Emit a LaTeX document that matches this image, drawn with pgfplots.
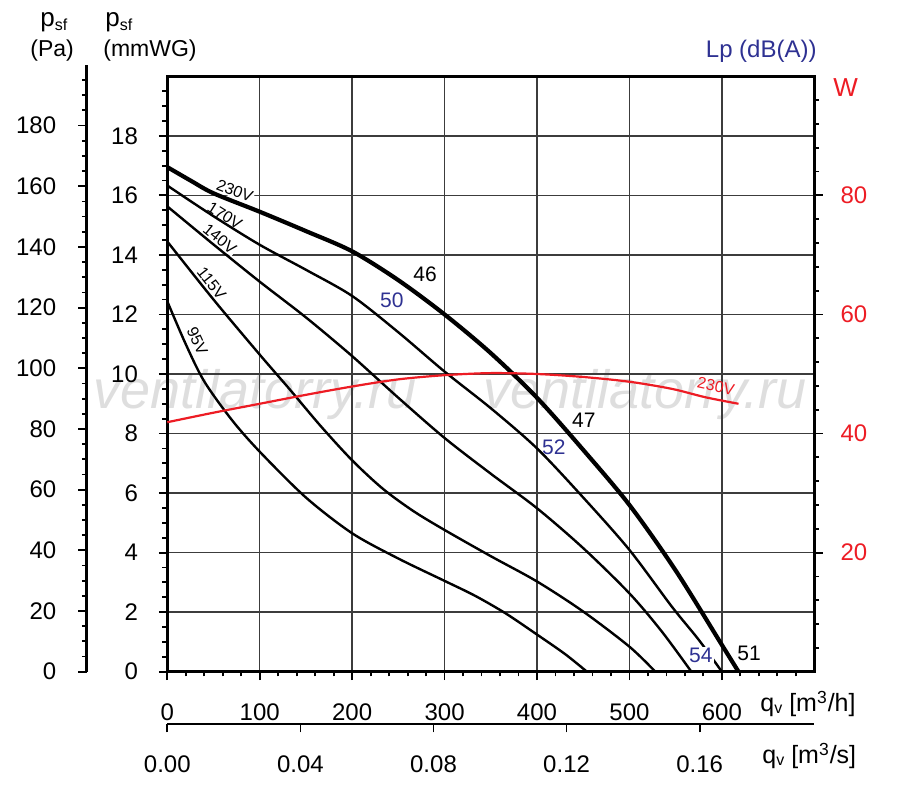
\documentclass[border=0pt]{standalone}
\usepackage{fontspec}
\setmainfont{Liberation Sans}
\usepackage{pgfplots}
\pgfplotsset{compat=1.18}
\definecolor{chred}{RGB}{237,28,36}
\definecolor{chblue}{RGB}{46,49,146}
\definecolor{gridc}{RGB}{60,60,60}
\newcommand{\fs}[1]{\fontsize{#1}{#1}\selectfont}
\begin{document}
\begin{tikzpicture}[font=\fs{12}]
\useasboundingbox (-83.65pt,-57.15pt) rectangle (366.35pt,335.85pt);
\pgfplotsset{
  every axis/.append style={
    scale only axis,
    /pgf/number format/assume math mode=true,
    tick label style={font=\fs{12}, inner sep=0pt},
    tick align=outside,
    tick style={black, line width=0.9pt},
    major tick length=4.2pt,
    minor tick length=2.4pt,
  },
}
% watermark
\node[font=\fs{27}\itshape, text=black!13] at (43.85pt,138.35pt) {ventilatorry.ru};
\node[font=\fs{27}\itshape, text=black!13] at (238.85pt,138.35pt) {ventilatorry.ru};

% Pa axis
\begin{axis}[
  at={(-40.3pt,0pt)}, anchor=south west,
  width=10pt, height=303.4pt,
  xmin=0, xmax=1, ymin=0, ymax=200,
  axis x line=none, axis y line*=left,
  axis line style={line width=1.2pt},
  ytick={0,20,...,180}, minor ytick={5,10,...,195},
  yticklabel shift=10.85pt,
]
\end{axis}

% m3/s axis
\begin{axis}[
  at={(0pt,-26.15pt)}, anchor=south west,
  width=323.5pt, height=10pt,
  xmin=0, xmax=0.194444, ymin=0, ymax=1,
  axis y line=none, axis x line*=bottom,
  axis line style={line width=1.1pt},
  xtick={0,0.04,0.08,0.12,0.16}, scaled x ticks=false,
  xticklabel style={/pgf/number format/fixed, /pgf/number format/fixed zerofill, /pgf/number format/precision=2},
  xticklabel shift=11.35pt,
]
\end{axis}

% main axis (mmWG)
\begin{axis}[
  at={(0pt,0pt)}, anchor=south west,
  width=323.5pt, height=297.7pt,
  xmin=0, xmax=700, ymin=0, ymax=20,
  tick pos=left,
  xtick={0,100,...,600}, minor xtick={20,40,...,680},
  ytick={0,2,...,18}, minor ytick={0.5,1,...,19.5},
  grid=major, major grid style={gridc, line width=0.7pt},
  axis line style={line width=1.3pt},
  xticklabel shift=11.6pt, yticklabel shift=10.3pt,
  clip=false,
]
% curve labels
\node[font=\fs{8}, rotate=-21, fill=white, inner sep=0.6pt] at (axis cs:73,16.15) {230V};
\node[font=\fs{8}, rotate=-32, fill=white, inner sep=0.6pt] at (axis cs:62.2,15.32) {170V};
\node[font=\fs{8}, rotate=-39, fill=white, inner sep=0.6pt] at (axis cs:56.9,14.54) {140V};
\node[font=\fs{8}, rotate=-52, fill=white, inner sep=0.6pt] at (axis cs:47.9,13.05) {115V};
\node[font=\fs{8}, rotate=-65, fill=white, inner sep=0.6pt] at (axis cs:32.6,11.12) {95V};

% 95V
\addplot[black, line width=1.2pt, smooth] coordinates {
(0,12.44) (20,11.0) (40,9.75) (70,8.45) (100,7.39) (150,5.85) (200,4.65) (250,3.8) (300,3.05) (333,2.55) (366,1.96) (398,1.29) (430,0.6) (454,0)};
% 115V
\addplot[black, line width=1.2pt, smooth] coordinates {
(0,14.45) (50,12.5) (100,10.65) (132,9.5) (166,8.25) (200,7.1) (233,6.15) (266,5.4) (300,4.76) (350,3.88) (400,3.03) (450,2.02) (500,0.84) (528,0)};
% 140V
\addplot[black, line width=1.2pt, smooth] coordinates {
(0,15.63) (50,14.35) (100,13.1) (150,11.9) (200,10.6) (250,9.2) (300,7.85) (350,6.65) (400,5.49) (450,4.15) (500,2.63) (535,1.35) (567,0)};
% 170V
\addplot[black, line width=1.2pt, smooth] coordinates {
(0,16.33) (50,15.3) (100,14.34) (150,13.5) (200,12.62) (250,11.4) (300,10.08) (350,8.85) (400,7.5) (450,5.85) (500,4.09) (546,2.18) (575,1.07) (600,0)};
% 230V (thick)
\addplot[black, line width=2.1pt, smooth] coordinates {
(0,16.95) (25,16.5) (50,16.07) (100,15.45) (150,14.8) (200,14.12) (250,13.15) (300,12.0) (350,10.7) (400,9.2) (450,7.45) (500,5.6) (550,3.4) (600,0.9) (618,0)};

% sound level labels
\node[font=\fs{10.5}] at (axis cs:278.9,13.36) {46};
\node[font=\fs{10.5}, text=chblue] at (axis cs:242.9,12.47) {50};
\node[font=\fs{10.5}] at (axis cs:450.6,8.46) {47};
\node[font=\fs{10.5}, text=chblue] at (axis cs:418.2,7.54) {52};
\node[font=\fs{10.5}, text=chblue, fill=white, inner sep=0.5pt] at (axis cs:577.3,0.56) {54};
\node[font=\fs{10.5}] at (axis cs:629.5,0.62) {51};
\end{axis}

% W axis (right)
\begin{axis}[
  at={(0pt,0pt)}, anchor=south west,
  width=323.5pt, height=297.7pt,
  xmin=0, xmax=700, ymin=0, ymax=100,
  axis x line=none, axis y line*=right,
  axis line style={line width=1.3pt},
  ytick={20,40,60,80}, minor ytick={4,8,...,96},
  yticklabel style={text=chred},
  yticklabel shift=8.7pt,
  clip=false,
]
\addplot[chred, line width=1.1pt, smooth] coordinates {
(0,41.9) (50,43.5) (100,45.0) (150,46.5) (200,47.9) (250,49.1) (300,49.8) (350,50.15) (400,50.0) (450,49.5) (500,48.7) (546,47.5) (582,46.1) (618,45.0)};
\node[font=\fs{8}, text=chred, rotate=-12] at (axis cs:593.5,47.9) {230V};
\end{axis}

% titles
\node[anchor=base west, inner sep=0pt, font=\fs{13}] at (-63.65pt,322.35pt) {p\raisebox{-1.6pt}{\fs{8}sf}};
\node[anchor=base west, inner sep=0pt, font=\fs{11.5}] at (-68.65pt,307.35pt) {(Pa)};
\node[anchor=base west, inner sep=0pt, font=\fs{13}] at (-31.15pt,322.35pt) {p\raisebox{-1.6pt}{\fs{8}sf}};
\node[anchor=base west, inner sep=0pt, font=\fs{11.5}] at (-32.15pt,307.35pt) {(mmWG)};
\node[anchor=base east, inner sep=0pt, font=\fs{12}, text=chblue] at (324.85pt,306.85pt) {Lp (dB(A))};
\node[anchor=base west, inner sep=0pt, font=\fs{13}, text=chred] at (332.85pt,287.35pt) {W};
\node[anchor=base west, inner sep=0pt, font=\fs{12.5}] at (296.35pt,-20.15pt) {q\raisebox{-1pt}{\fs{8}v} [m\textsuperscript{3}/h]};
\node[anchor=base west, inner sep=0pt, font=\fs{12.5}] at (297.35pt,-46.15pt) {q\raisebox{-1pt}{\fs{8}v} [m\textsuperscript{3}/s]};
\end{tikzpicture}
\end{document}
